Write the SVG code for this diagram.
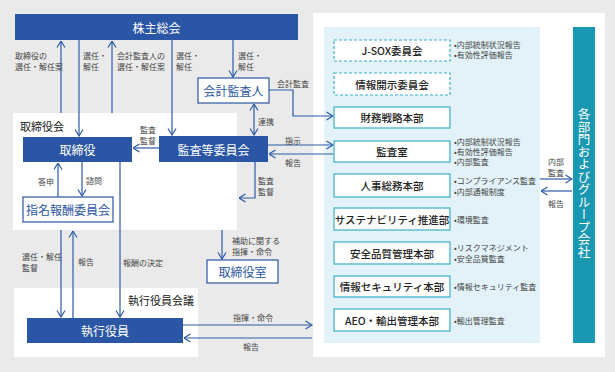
<svg xmlns="http://www.w3.org/2000/svg" width="615" height="372" viewBox="0 0 615 372">
<style>
text{font-family:"Noto Sans CJK JP","Noto Sans",sans-serif;dominant-baseline:central}
.lbl{font-size:8px;fill:#444}
.bul{font-size:8px;fill:#444}
.wt{font-size:12px;fill:#fff;text-anchor:middle}
.bt{font-size:12px;fill:#2a56a5;text-anchor:middle}
.rt{font-size:10.5px;fill:#222;text-anchor:middle;font-weight:500}
.dark{fill:#2a56a5}
.wbox{fill:#fff;stroke:#2a56a5;stroke-width:1.2}
.rbox{fill:#fff;stroke:#3aaed0;stroke-width:1.2}
.dbox{fill:#fff;stroke:#3aaed0;stroke-width:1.2;stroke-dasharray:3 2}
.ln{fill:none;stroke:#2d5aa8;stroke-width:1.2}
.ttl{font-size:11px;fill:#222}
</style>
<defs>
<marker id="ah" viewBox="0 0 8 10" refX="7.5" refY="5" markerWidth="8" markerHeight="10" markerUnits="userSpaceOnUse" orient="auto-start-reverse">
<path d="M1,1 L7.5,5 L1,9" fill="none" stroke="#2d5aa8" stroke-width="1.2"/>
</marker>
</defs>
<rect width="615" height="372" fill="#eaeaea"/>
<!-- panels -->
<rect x="13" y="113" width="224" height="117" fill="#fff"/>
<rect x="14" y="288" width="184" height="69" fill="#fff"/>
<rect x="313" y="13" width="292" height="344" fill="#fff"/>
<rect x="324" y="27" width="216" height="316" fill="#e3f2f8"/>
<text x="20" y="126" class="ttl">取締役会</text>
<text x="128" y="300" class="ttl">執行役員会議</text>

<g id="connectors">
<path class="ln" d="M61,113 V41" marker-end="url(#ah)"/>
<path class="ln" d="M79,40 V136" marker-end="url(#ah)"/>
<path class="ln" d="M112,113 V41" marker-end="url(#ah)"/>
<path class="ln" d="M172,40 V135" marker-end="url(#ah)"/>
<path class="ln" d="M233,40 V77" marker-end="url(#ah)"/>
<path class="ln" d="M269,90 H293 V116 H333" marker-end="url(#ah)"/>
<path class="ln" d="M254,104 V135" marker-start="url(#ah)" marker-end="url(#ah)"/>
<path class="ln" d="M159,148 H133" marker-end="url(#ah)"/>
<path class="ln" d="M268,145 H333" marker-end="url(#ah)"/>
<path class="ln" d="M333,154 H269" marker-end="url(#ah)"/>
<path class="ln" d="M255,162 V198 H239" marker-end="url(#ah)"/>
<path class="ln" d="M222,230 V259" marker-end="url(#ah)"/>
<path class="ln" d="M58,197 V163" marker-end="url(#ah)"/>
<path class="ln" d="M82,162 V196" marker-end="url(#ah)"/>
<path class="ln" d="M120,162 V317" marker-end="url(#ah)"/>
<path class="ln" d="M61,230 V317" marker-end="url(#ah)"/>
<path class="ln" d="M73,318 V231" marker-end="url(#ah)"/>
<path class="ln" d="M183,325 H312" marker-end="url(#ah)"/>
<path class="ln" d="M312,338 H184" marker-end="url(#ah)"/>
<path class="ln" d="M540,179 H572" marker-end="url(#ah)"/>
<path class="ln" d="M572,191 H541" marker-end="url(#ah)"/>
</g>

<g id="labels">
<text x="15" y="55" class="lbl">取締役の</text>
<text x="15" y="66" class="lbl">選任・解任案</text>
<text x="83" y="55" class="lbl">選任・</text>
<text x="83" y="66" class="lbl">解任</text>
<text x="117" y="55" class="lbl">会計監査人の</text>
<text x="117" y="66" class="lbl">選任・解任案</text>
<text x="176" y="55" class="lbl">選任・</text>
<text x="176" y="66" class="lbl">解任</text>
<text x="238" y="55" class="lbl">選任・</text>
<text x="238" y="66" class="lbl">解任</text>
<text x="277" y="83" class="lbl">会計監査</text>
<text x="258" y="121" class="lbl">連携</text>
<text x="140" y="129.5" class="lbl">監査</text>
<text x="140" y="140.5" class="lbl">監督</text>
<text x="285" y="140" class="lbl">指示</text>
<text x="285" y="162" class="lbl">報告</text>
<text x="258" y="180" class="lbl">監査</text>
<text x="258" y="191" class="lbl">監督</text>
<text x="38" y="181" class="lbl">答申</text>
<text x="86" y="180" class="lbl">諮問</text>
<text x="232" y="240.5" class="lbl">補助に関する</text>
<text x="232" y="251.5" class="lbl">指揮・命令</text>
<text x="22" y="256.5" class="lbl">選任・解任</text>
<text x="22" y="267.5" class="lbl">監督</text>
<text x="78" y="261" class="lbl">報告</text>
<text x="123" y="262" class="lbl">報酬の決定</text>
<text x="233" y="317" class="lbl">指揮・命令</text>
<text x="243" y="346" class="lbl">報告</text>
<text x="556" y="161.5" class="lbl" text-anchor="middle">内部</text>
<text x="556" y="172.5" class="lbl" text-anchor="middle">監査</text>
<text x="556" y="203" class="lbl" text-anchor="middle">報告</text>
</g>

<g id="n-kabunushi"><rect x="15" y="14" width="283" height="26" class="dark"/><text x="156.5" y="27" class="wt">株主総会</text></g>
<g id="n-torishimariyaku"><rect x="23" y="137" width="109" height="25" class="dark"/><text x="77.5" y="149.5" class="wt">取締役</text></g>
<g id="n-kansa"><rect x="159" y="136" width="109" height="26" class="dark"/><text x="213.5" y="149" class="wt">監査等委員会</text></g>
<g id="n-kaikei"><rect x="198" y="78" width="71" height="25" class="wbox"/><text x="233.5" y="90.5" class="bt">会計監査人</text></g>
<g id="n-shimei"><rect x="23" y="197" width="90" height="25" class="wbox"/><text x="68" y="209.5" class="bt">指名報酬委員会</text></g>
<g id="n-torishitsu"><rect x="207" y="260" width="71" height="23" class="wbox"/><text x="242.5" y="271.5" class="bt">取締役室</text></g>
<g id="n-shikkou"><rect x="27" y="318" width="156" height="25" class="dark"/><text x="105" y="330.5" class="wt">執行役員</text></g>

<g id="n-jsox"><rect x="334" y="40" width="116" height="21" class="dbox"/><text x="392" y="50.5" class="rt">J-SOX委員会</text>
<text x="454" y="44" class="bul">•内部統制状況報告</text><text x="454" y="54" class="bul">•有効性評価報告</text></g>
<g id="n-jouhoukaiji"><rect x="334" y="73" width="116" height="22" class="dbox"/><text x="392" y="84" class="rt">情報開示委員会</text></g>
<g id="n-zaimu"><rect x="334" y="107" width="116" height="21" class="rbox"/><text x="392" y="117.5" class="rt">財務戦略本部</text></g>
<g id="n-kansashitsu"><rect x="334" y="141" width="116" height="21" class="rbox"/><text x="392" y="151.5" class="rt">監査室</text>
<text x="454" y="141" class="bul">•内部統制状況報告</text><text x="454" y="151" class="bul">•有効性評価報告</text><text x="454" y="161" class="bul">•内部監査</text></g>
<g id="n-jinji"><rect x="334" y="174" width="116" height="23" class="rbox"/><text x="392" y="185.5" class="rt">人事総務本部</text>
<text x="454" y="180" class="bul">•コンプライアンス監査</text><text x="454" y="191" class="bul">•内部通報制度</text></g>
<g id="n-sustain"><rect x="334" y="208" width="116" height="22" class="rbox"/><text x="392" y="219" class="rt">サステナビリティ推進部</text>
<text x="454" y="219" class="bul">•環境監査</text></g>
<g id="n-anzen"><rect x="334" y="242" width="116" height="22" class="rbox"/><text x="392" y="253" class="rt">安全品質管理本部</text>
<text x="454" y="247" class="bul">•リスクマネジメント</text><text x="454" y="258" class="bul">•安全品質監査</text></g>
<g id="n-security"><rect x="334" y="276" width="116" height="21" class="rbox"/><text x="392" y="286.5" class="rt">情報セキュリティ本部</text>
<text x="454" y="286" class="bul">•情報セキュリティ監査</text></g>
<g id="n-aeo"><rect x="334" y="309" width="116" height="22" class="rbox"/><text x="392" y="320" class="rt">AEO・輸出管理本部</text>
<text x="454" y="320" class="bul">•輸出管理監査</text></g>

<g id="n-group"><rect x="573" y="27" width="22" height="316" fill="#1a98b2"/>
<text x="584" y="183" style="writing-mode:vertical-rl;font-size:12.5px;fill:#fff;text-anchor:middle">各部門およびグループ会社</text></g>
</svg>
